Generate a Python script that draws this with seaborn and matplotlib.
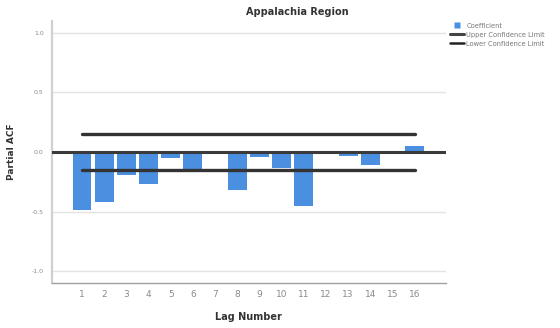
import matplotlib
matplotlib.use("Agg")
import matplotlib.pyplot as plt
import seaborn as sns
import pandas as pd
from matplotlib.lines import Line2D

lags = [1, 2, 3, 4, 5, 6, 7, 8, 9, 10, 11, 12, 13, 14, 15, 16]
coefficient = [-0.49, -0.42, -0.19, -0.265, -0.05, -0.145, 0.0, -0.32,
               -0.045, -0.13, -0.45, -0.015, -0.03, -0.11, 0.0, 0.05]
upper_limit = 0.15
lower_limit = -0.15
yticks = [-1.0, -0.5, 0.0, 0.5, 1.0]
title = "Appalachia Region"

sns.set_theme(style="white")
plt.rcParams['font.family'] = ['DejaVu Sans']

df = pd.DataFrame({"lag": lags, "coef": coefficient})
conf = pd.DataFrame({
    "lag": [lags[0], lags[-1], lags[0], lags[-1]],
    "val": [upper_limit, upper_limit, lower_limit, lower_limit],
    "kind": ["Upper", "Upper", "Lower", "Lower"],
})

fig = plt.figure(figsize=(5.6, 3.28), dpi=100)
ax = fig.add_axes([0.0929, 0.137, 0.703, 0.799])

bar_color = "#4a8fe0"
sns.barplot(data=df, x="lag", y="coef", native_scale=True, width=0.85,
            color=bar_color, saturation=1, edgecolor="none", linewidth=0, ax=ax)

for k in ["Upper", "Lower"]:
    sns.lineplot(data=conf[conf.kind == k], x="lag", y="val", color="#333333",
                 linewidth=2.4, ax=ax, legend=False)

ax.axhline(0, color="#3a3a3a", linewidth=2.2, zorder=3)

ax.set_xlim(-0.35, 17.4)
ax.set_ylim(-1.1, 1.1)
ax.set_yticks(yticks)
ax.set_yticklabels([f"{v:.1f}" for v in yticks])
ax.set_xticks(lags)
ax.set_xticklabels([str(l) for l in lags])
for y in yticks:
    if y != 0:
        ax.axhline(y, color="#e3e3e3", linewidth=1.0, zorder=0)

ax.tick_params(axis="x", labelsize=6.5, colors="#8a8a8a", length=0, pad=5)
ax.tick_params(axis="y", labelsize=4.5, colors="#8a8a8a", length=0, pad=6)

for s in ["top", "right"]:
    ax.spines[s].set_visible(False)
ax.spines["left"].set_color("#d0d0d0")
ax.spines["left"].set_linewidth(1.6)
ax.spines["bottom"].set_color("#a0a0a0")
ax.spines["bottom"].set_linewidth(1.0)

ax.set_xlabel("Lag Number", fontsize=7, fontweight="bold", color="#333333", labelpad=9)
ax.set_ylabel("Partial ACF", fontsize=6.5, fontweight="bold", color="#333333", labelpad=11)
fig.text(297 / 560, 1 - 12 / 328, title, ha="center", va="center",
         fontsize=7, fontweight="bold", color="#333333")

handles = [
    Line2D([0], [0], marker="s", linestyle="none", markersize=5,
           markerfacecolor=bar_color, markeredgecolor="none"),
    Line2D([0], [0], color="#444444", linewidth=2.2),
    Line2D([0], [0], color="#222222", linewidth=1.8),
]
labels = ["Coefficient", "Upper Confidence Limit", "Lower Confidence Limit"]
fig.legend(handles, labels, loc="upper left", bbox_to_anchor=(447 / 560, 1 - 20 / 328),
           frameon=False, fontsize=4.8, labelcolor="#777777", handlelength=2.2,
           handleheight=0.9, handletextpad=0.3, labelspacing=0.45, borderaxespad=0,
           numpoints=1)

fig.savefig("out.png", dpi=100)
